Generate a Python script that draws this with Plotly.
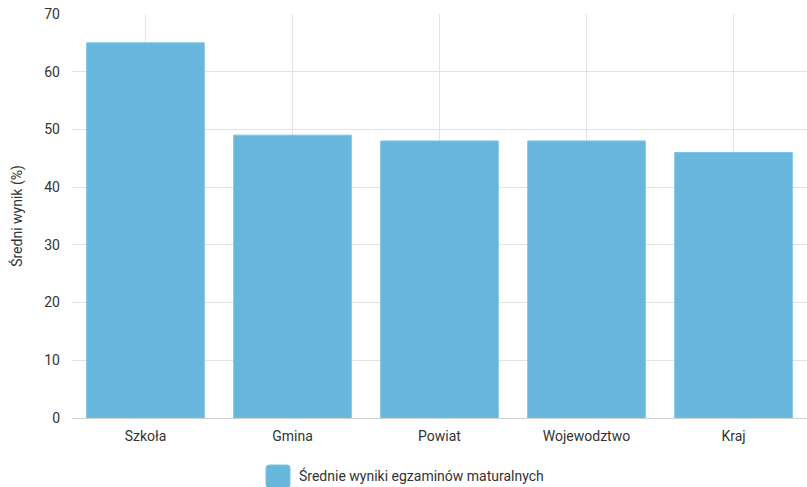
import plotly.graph_objects as go
import re

categories = ["Szkoła", "Gmina", "Powiat", "Wojewodztwo", "Kraj"]
values = [65, 49, 48, 48, 46]
series_name = "Średnie wyniki egzaminów maturalnych"
y_title = "Średni wynik (%)"
y_ticks = [0, 10, 20, 30, 40, 50, 60, 70]

bar_color = "#67b6dc"
grid_color = "#e3e3e3"
font_family = "Roboto, Arial, sans-serif"
text_color = "#333333"

fig = go.Figure()
fig.add_trace(go.Bar(
    x=categories, y=values, name=series_name,
    marker=dict(color=bar_color, line=dict(color="#7cc3e4", width=1)),
    showlegend=False,
))

W, H = 807, 487
L, R, T, B = 72, 0, 14, 69

fig.update_layout(
    width=W, height=H,
    margin=dict(l=L, r=R, t=T, b=B),
    paper_bgcolor="white", plot_bgcolor="white",
    bargap=0.2,
    font=dict(family=font_family, size=14, color=text_color),
    xaxis=dict(
        showgrid=True, gridcolor=grid_color, gridwidth=1,
        showline=True, linecolor="#cfcfcf", linewidth=1,
        ticks="", tickfont=dict(size=14, color=text_color),
        ticklabelstandoff=5,
    ),
    yaxis=dict(
        range=[0, 70], tickvals=y_ticks,
        showgrid=True, gridcolor=grid_color, gridwidth=1,
        zeroline=False, showline=False, ticks="",
        tickfont=dict(size=14, color=text_color),
        ticklabelstandoff=11,
        title=dict(text=y_title, font=dict(size=14, color=text_color), standoff=18),
    ),
)

# legend-like swatch and label
sw_w, sw_h = 24, 23
x0 = 266 - L
y_top = 465
def px_x(p):
    return p / (W - L - R)
def px_y(p):
    return 1 - (p - T) / (H - T - B)
r = 3
xa, xb = x0, x0 + sw_w
ya, yb = y_top, y_top + sw_h
path = (f"M {xa + r},{ya} L {xb - r},{ya} Q {xb},{ya} {xb},{ya + r} "
        f"L {xb},{yb - r} Q {xb},{yb} {xb - r},{yb} L {xa + r},{yb} "
        f"Q {xa},{yb} {xa},{yb - r} L {xa},{ya + r} Q {xa},{ya} {xa + r},{ya} Z")
def conv(path):
    nums = re.findall(r"[-\d.]+,[-\d.]+", path)
    out = path
    for n in nums:
        px, py = map(float, n.split(","))
        out = out.replace(n, f"{px_x(px):.5f},{px_y(py):.5f}", 1)
    return out
fig.add_shape(type="path", xref="paper", yref="paper", path=conv(path),
              fillcolor=bar_color, line=dict(color="#7cc3e4", width=1), layer="above")
fig.add_annotation(xref="paper", yref="paper", x=px_x(297 - L), y=px_y(476),
                   text=series_name, showarrow=False, xanchor="left", yanchor="middle",
                   font=dict(size=14, color=text_color, family=font_family))

fig.write_html("out.html", config={"displayModeBar": False},
               post_script="document.body.style.margin='0';document.body.style.overflow='hidden';")
